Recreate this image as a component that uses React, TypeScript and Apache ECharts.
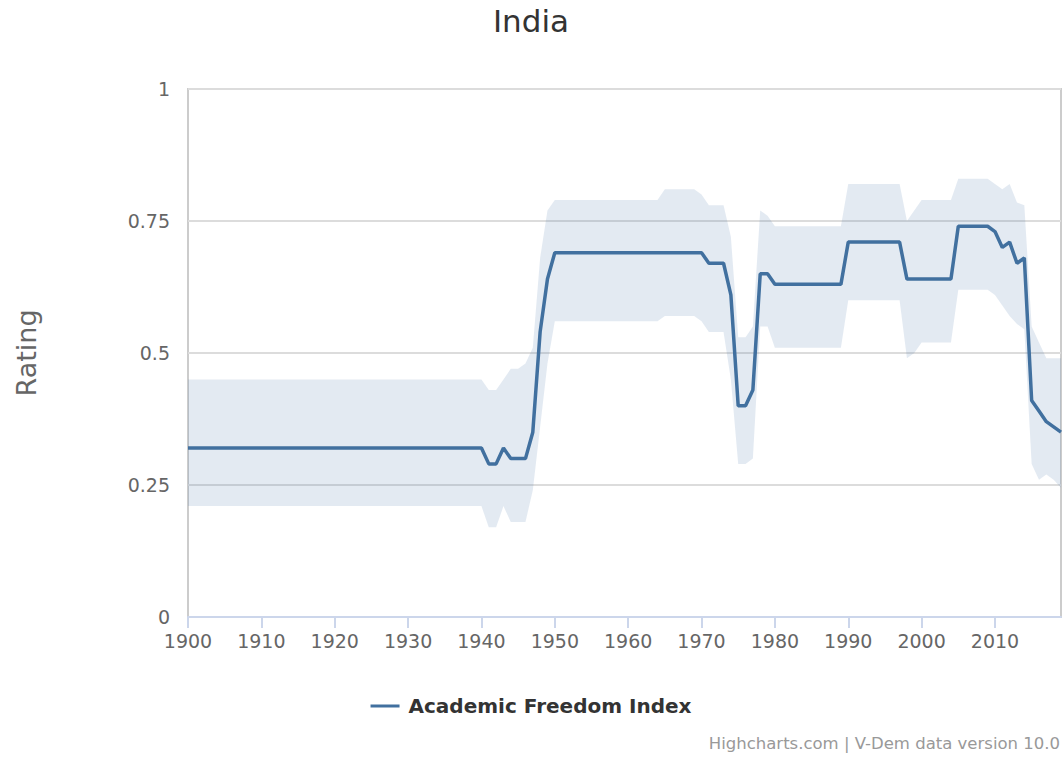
import React, { useEffect, useRef } from "react";
import * as echarts from "echarts";

const FIRST_YEAR = 1900;
const chartTitle = "India";
const seriesName = "Academic Freedom Index";
const yAxisTitle = "Rating";
const creditsText = "Highcharts.com | V-Dem data version 10.0";
const xTicks = [1900, 1910, 1920, 1930, 1940, 1950, 1960, 1970, 1980, 1990, 2000, 2010];
const yTicks = [0, 0.25, 0.5, 0.75, 1];

// Academic Freedom Index, one value per year from 1900 to 2019
const afi = [
  0.32, 0.32, 0.32, 0.32, 0.32, 0.32, 0.32, 0.32, 0.32, 0.32,
  0.32, 0.32, 0.32, 0.32, 0.32, 0.32, 0.32, 0.32, 0.32, 0.32,
  0.32, 0.32, 0.32, 0.32, 0.32, 0.32, 0.32, 0.32, 0.32, 0.32,
  0.32, 0.32, 0.32, 0.32, 0.32, 0.32, 0.32, 0.32, 0.32, 0.32,
  0.32, 0.29, 0.29, 0.32, 0.30, 0.30, 0.30, 0.35, 0.54, 0.64,
  0.69, 0.69, 0.69, 0.69, 0.69, 0.69, 0.69, 0.69, 0.69, 0.69,
  0.69, 0.69, 0.69, 0.69, 0.69, 0.69, 0.69, 0.69, 0.69, 0.69,
  0.69, 0.67, 0.67, 0.67, 0.61, 0.40, 0.40, 0.43, 0.65, 0.65,
  0.63, 0.63, 0.63, 0.63, 0.63, 0.63, 0.63, 0.63, 0.63, 0.63,
  0.71, 0.71, 0.71, 0.71, 0.71, 0.71, 0.71, 0.71, 0.64, 0.64,
  0.64, 0.64, 0.64, 0.64, 0.64, 0.74, 0.74, 0.74, 0.74, 0.74,
  0.73, 0.70, 0.71, 0.67, 0.68, 0.41, 0.39, 0.37, 0.36, 0.35,
];

// Upper bound of the confidence interval
const afiHigh = [
  0.45, 0.45, 0.45, 0.45, 0.45, 0.45, 0.45, 0.45, 0.45, 0.45,
  0.45, 0.45, 0.45, 0.45, 0.45, 0.45, 0.45, 0.45, 0.45, 0.45,
  0.45, 0.45, 0.45, 0.45, 0.45, 0.45, 0.45, 0.45, 0.45, 0.45,
  0.45, 0.45, 0.45, 0.45, 0.45, 0.45, 0.45, 0.45, 0.45, 0.45,
  0.45, 0.43, 0.43, 0.45, 0.47, 0.47, 0.48, 0.51, 0.68, 0.77,
  0.79, 0.79, 0.79, 0.79, 0.79, 0.79, 0.79, 0.79, 0.79, 0.79,
  0.79, 0.79, 0.79, 0.79, 0.79, 0.81, 0.81, 0.81, 0.81, 0.81,
  0.80, 0.78, 0.78, 0.78, 0.72, 0.53, 0.53, 0.55, 0.77, 0.76,
  0.74, 0.74, 0.74, 0.74, 0.74, 0.74, 0.74, 0.74, 0.74, 0.74,
  0.82, 0.82, 0.82, 0.82, 0.82, 0.82, 0.82, 0.82, 0.75, 0.77,
  0.79, 0.79, 0.79, 0.79, 0.79, 0.83, 0.83, 0.83, 0.83, 0.83,
  0.82, 0.81, 0.82, 0.785, 0.78, 0.55, 0.52, 0.49, 0.49, 0.49,
];

// Lower bound of the confidence interval
const afiLow = [
  0.21, 0.21, 0.21, 0.21, 0.21, 0.21, 0.21, 0.21, 0.21, 0.21,
  0.21, 0.21, 0.21, 0.21, 0.21, 0.21, 0.21, 0.21, 0.21, 0.21,
  0.21, 0.21, 0.21, 0.21, 0.21, 0.21, 0.21, 0.21, 0.21, 0.21,
  0.21, 0.21, 0.21, 0.21, 0.21, 0.21, 0.21, 0.21, 0.21, 0.21,
  0.21, 0.17, 0.17, 0.21, 0.18, 0.18, 0.18, 0.24, 0.36, 0.48,
  0.56, 0.56, 0.56, 0.56, 0.56, 0.56, 0.56, 0.56, 0.56, 0.56,
  0.56, 0.56, 0.56, 0.56, 0.56, 0.57, 0.57, 0.57, 0.57, 0.57,
  0.56, 0.54, 0.54, 0.54, 0.45, 0.29, 0.29, 0.30, 0.55, 0.55,
  0.51, 0.51, 0.51, 0.51, 0.51, 0.51, 0.51, 0.51, 0.51, 0.51,
  0.60, 0.60, 0.60, 0.60, 0.60, 0.60, 0.60, 0.60, 0.49, 0.50,
  0.52, 0.52, 0.52, 0.52, 0.52, 0.62, 0.62, 0.62, 0.62, 0.62,
  0.61, 0.59, 0.57, 0.555, 0.545, 0.29, 0.26, 0.27, 0.26, 0.245,
];

const years = afi.map((_, i) => FIRST_YEAR + i);

const FONT = "'DejaVu Sans', Verdana, sans-serif";

export default function App() {
  const ref = useRef<HTMLDivElement>(null);

  useEffect(() => {
    if (!ref.current) return;
    const chart = echarts.init(ref.current, undefined, { renderer: "svg" });
    const bandData = years.map((y, i) => [y, afiLow[i], afiHigh[i]]);
    const lineData = years.map((y, i) => [y, afi[i]]);

    chart.setOption({
      animation: false,
      backgroundColor: "#ffffff",
      textStyle: { fontFamily: FONT },
      title: {
        text: chartTitle,
        left: "center",
        top: 5,
        padding: 0,
        textStyle: { fontFamily: FONT, fontSize: 31, fontWeight: "normal", color: "#333333" },
      },
      legend: {
        data: [{ name: seriesName, icon: "rect" }],
        left: "center",
        top: 696,
        padding: 0,
        itemWidth: 29,
        itemHeight: 3,
        itemGap: 8,
        textStyle: {
          fontFamily: FONT,
          fontSize: 20,
          fontWeight: "bold",
          color: "#333333",
          padding: [0, 0, 0, 4],
        },
      },
      grid: {
        left: 188,
        right: 1,
        top: 89,
        bottom: 141,
        show: true,
        borderColor: "#cccccc",
        borderWidth: 2,
        backgroundColor: "transparent",
      },
      xAxis: {
        type: "value",
        min: FIRST_YEAR,
        max: years[years.length - 1],
        interval: 10,
        axisLine: { show: true, lineStyle: { color: "#ccd6eb", width: 2 } },
        axisTick: { show: true, length: 11, customValues: xTicks, lineStyle: { color: "#ccd6eb", width: 2 } },
        axisLabel: {
          customValues: xTicks,
          margin: 14,
          fontFamily: FONT,
          fontSize: 19,
          color: "#666666",
          formatter: (v: number) => String(v),
        },
        splitLine: { show: false },
      },
      yAxis: {
        type: "value",
        min: yTicks[0],
        max: yTicks[yTicks.length - 1],
        interval: 0.25,
        name: yAxisTitle,
        nameLocation: "middle",
        nameGap: 148,
        nameTextStyle: { fontFamily: FONT, fontSize: 27, color: "#666666" },
        axisLine: { show: false },
        axisTick: { show: false },
        axisLabel: {
          margin: 18,
          fontFamily: FONT,
          fontSize: 19,
          color: "#666666",
          formatter: (v: number) => String(v),
        },
        splitLine: { show: true, lineStyle: { color: "#dcdcdc", width: 2 } },
      },
      graphic: [
        {
          type: "text",
          right: 2,
          top: 735,
          style: { text: creditsText, fontFamily: FONT, fontSize: 16.5, fill: "#999999" },
        },
      ],
      series: [
        {
          name: "range",
          type: "custom",
          data: bandData,
          silent: true,
          clip: true,
          z: 1,
          renderItem: (params: any, api: any) => {
            if (params.dataIndex !== 0) return null;
            const pts: number[][] = [];
            for (let i = 0; i < bandData.length; i++) {
              pts.push(api.coord([bandData[i][0], bandData[i][2]]));
            }
            for (let i = bandData.length - 1; i >= 0; i--) {
              pts.push(api.coord([bandData[i][0], bandData[i][1]]));
            }
            return {
              type: "polygon",
              shape: { points: pts },
              style: { fill: "rgba(69, 114, 167, 0.15)", stroke: "none" },
            };
          },
        },
        {
          name: seriesName,
          type: "line",
          data: lineData,
          symbol: "none",
          showSymbol: false,
          color: "#41709f",
          lineStyle: { color: "#41709f", width: 3.5 },
          z: 3,
        },
      ],
    });

    return () => chart.dispose();
  }, []);

  return (
    <div
      ref={ref}
      style={{ position: "absolute", left: 0, top: 0, width: 1062, height: 758 }}
    />
  );
}
